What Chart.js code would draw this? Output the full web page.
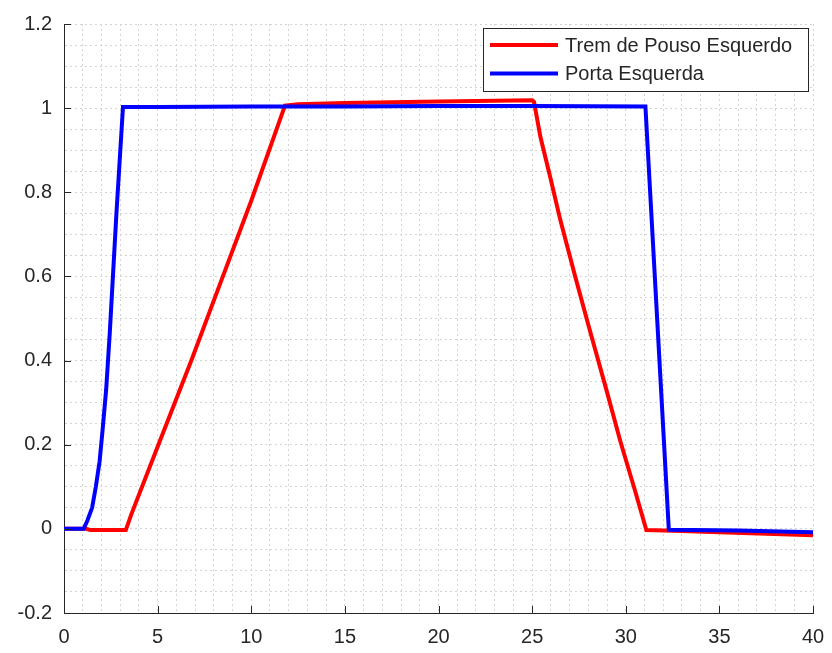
<!DOCTYPE html>
<html>
<head>
<meta charset="utf-8">
<script src="https://cdn.jsdelivr.net/npm/chart.js@4"></script>
<style>
  html, body { margin: 0; padding: 0; background: #fff; }
  canvas { display: block; }
</style>
</head>
<body>
<canvas id="chart" width="832" height="653"></canvas>
<script>
// séries
const seriesLabels = ['Trem de Pouso Esquerdo', 'Porta Esquerda'];
const seriesColors = ['#ff0000', '#0000ff'];

const redX = [0, 1.2, 1.4, 3.3, 3.6, 5.0, 6.8, 8.4, 10.0, 11.8, 12.5, 15, 20, 25.0, 25.1, 25.45, 26.0, 26.5, 27.3, 28.0, 29.0, 29.7, 30.5, 31.1, 33, 35, 40];
const redY = [0, 0, -0.003, -0.003, 0.035, 0.195, 0.4, 0.59, 0.78, 1.006, 1.009, 1.012, 1.016, 1.019, 1.015, 0.93, 0.83, 0.735, 0.6, 0.485, 0.325, 0.21, 0.09, -0.003, -0.005, -0.008, -0.015];

const blueX = [0, 1.05, 1.25, 1.5, 1.7, 1.9, 2.05, 2.25, 2.45, 2.8, 3.15, 5, 10, 15, 20, 25, 31.05, 32.3, 36, 40];
const blueY = [0, 0, 0.02, 0.05, 0.1, 0.16, 0.23, 0.33, 0.47, 0.75, 1.003, 1.003, 1.004, 1.004, 1.005, 1.005, 1.004, -0.002, -0.004, -0.008];

// eixos
const xMin = 0, xMax = 40, xMajor = 5, xMinor = 1;
const yMin = -0.2, yMax = 1.2, yMajor = 0.2, yMinor = 0.05;

const axisColor = '#262626';
const gridColor = '#d4d4d4';
const fontFamily = '"Liberation Sans", Arial, Helvetica, sans-serif';

function toPoints(xs, ys) {
  return xs.map((x, i) => ({ x, y: ys[i] }));
}

function isMajor(v, step) {
  const r = Math.round(v / step * 1000) / 1000;
  return Math.abs(r - Math.round(r)) < 1e-6;
}

function fmt(v) {
  return String(Math.round(v * 100) / 100);
}

// marcas internas dos eixos (estilo MATLAB)
const innerTicks = {
  id: 'innerTicks',
  afterDraw(chart) {
    const { ctx, chartArea, scales } = chart;
    ctx.save();
    ctx.strokeStyle = axisColor;
    ctx.lineWidth = 1;
    ctx.beginPath();
    scales.x.ticks.forEach((t) => {
      if (!isMajor(t.value, xMajor)) return;
      const px = Math.round(scales.x.getPixelForValue(t.value)) + 0.5;
      ctx.moveTo(px, chartArea.bottom);
      ctx.lineTo(px, chartArea.bottom - 7);
    });
    scales.y.ticks.forEach((t) => {
      if (!isMajor(t.value, yMajor)) return;
      const py = Math.round(scales.y.getPixelForValue(t.value)) + 0.5;
      ctx.moveTo(chartArea.left, py);
      ctx.lineTo(chartArea.left + 7, py);
    });
    ctx.stroke();
    ctx.restore();
  }
};

// legenda dentro da área do gráfico
const boxLegend = {
  id: 'boxLegend',
  afterDraw(chart) {
    const { ctx } = chart;
    const ds = chart.data.datasets;
    const x0 = 483, y0 = 28, w = 325, h = 63;
    ctx.save();
    ctx.fillStyle = '#fff';
    ctx.fillRect(x0, y0, w, h);
    ctx.strokeStyle = axisColor;
    ctx.lineWidth = 1;
    ctx.strokeRect(x0 + 0.5, y0 + 0.5, w, h);
    ctx.font = '20px ' + fontFamily;
    ctx.textBaseline = 'middle';
    ctx.textAlign = 'left';
    ds.forEach((d, i) => {
      const y = 45 + i * 28.5;
      ctx.strokeStyle = d.borderColor;
      ctx.lineWidth = 4;
      ctx.beginPath();
      ctx.moveTo(490, y);
      ctx.lineTo(558, y);
      ctx.stroke();
      ctx.fillStyle = axisColor;
      ctx.fillText(d.label, 565, y + 1);
    });
    ctx.restore();
  }
};

new Chart(document.getElementById('chart'), {
  type: 'line',
  data: {
    datasets: [
      {
        label: seriesLabels[0],
        data: toPoints(redX, redY),
        borderColor: seriesColors[0],
        borderWidth: 4,
        pointRadius: 0,
        tension: 0,
        fill: false,
        order: 1
      },
      {
        label: seriesLabels[1],
        data: toPoints(blueX, blueY),
        borderColor: seriesColors[1],
        borderWidth: 4,
        pointRadius: 0,
        tension: 0,
        fill: false,
        order: 0
      }
    ]
  },
  options: {
    responsive: false,
    animation: false,
    devicePixelRatio: 1,
    layout: { padding: { top: 22, right: 19, left: 0, bottom: 0 } },
    plugins: {
      legend: { display: false },
      tooltip: { enabled: false }
    },
    scales: {
      x: {
        type: 'linear',
        min: xMin,
        max: xMax,
        afterFit(scale) {
          scale.height = 40;
          scale.paddingLeft = 0;
          scale.paddingRight = 0;
        },
        ticks: {
          stepSize: xMinor,
          autoSkip: false,
          maxRotation: 0,
          padding: 12,
          color: axisColor,
          font: { family: fontFamily, size: 20 },
          callback: (v) => (isMajor(v, xMajor) ? fmt(v) : '')
        },
        grid: { color: gridColor, lineWidth: 1, drawTicks: false, tickLength: 0 },
        border: { display: true, color: axisColor, width: 1, dash: [2, 3] }
      },
      y: {
        type: 'linear',
        min: yMin,
        max: yMax,
        afterFit(scale) { scale.width = 64; },
        ticks: {
          stepSize: yMinor,
          autoSkip: false,
          padding: 12,
          color: axisColor,
          font: { family: fontFamily, size: 20 },
          callback: (v) => (isMajor(v, yMajor) ? fmt(v) : '')
        },
        grid: { color: gridColor, lineWidth: 1, drawTicks: false, tickLength: 0 },
        border: { display: true, color: axisColor, width: 1, dash: [2, 3] }
      }
    }
  },
  plugins: [innerTicks, boxLegend]
});
</script>
</body>
</html>
